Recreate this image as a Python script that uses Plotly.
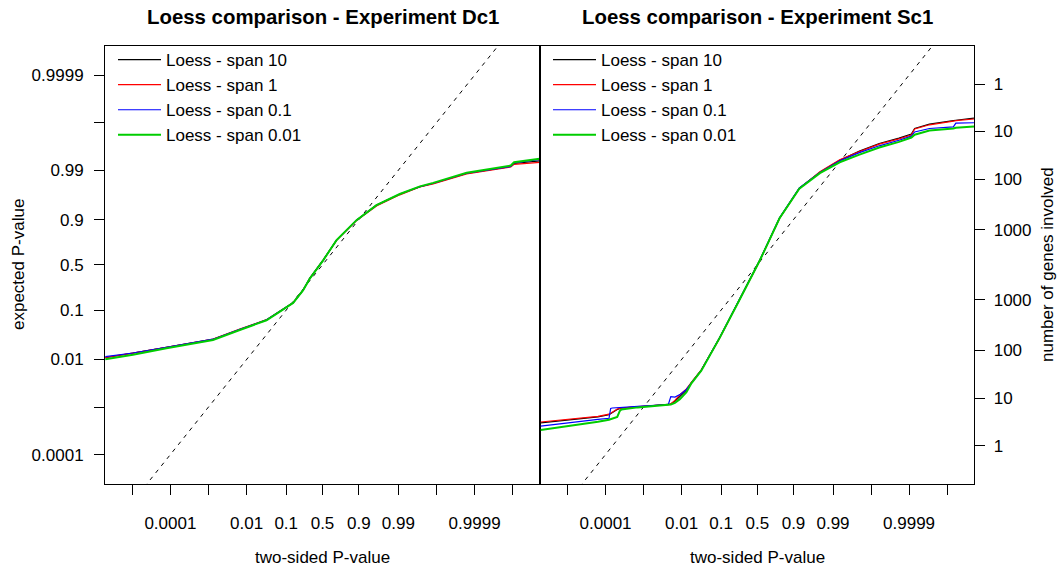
import numpy as np
import plotly.graph_objects as go

# ---------------- data (axis coordinates are logit(P) units) ----------------
series_names = ["Loess - span 10", "Loess - span 1", "Loess - span 0.1", "Loess - span 0.01"]
series_colors = ["#000000", "#FF0000", "#0000FF", "#00CD00"]
series_widths = [1.2, 1.2, 1.2, 2.0]

# Experiment Dc1 (left panel)
dc1_x = [-13.15, -11.48, -9.45, -6.63, -5.01, -3.39, -1.78, -1.18, -0.77, 0.04, 0.85,
         2.06, 3.27, 4.68, 5.90, 6.70, 8.73, 10.75, 11.40, 11.60, 13.15]
dc1_span10 = [-4.51, -4.30, -4.01, -3.62, -3.14, -2.68, -1.84, -1.23, -0.66, 0.23, 1.20,
              2.17, 2.90, 3.43, 3.79, 3.95, 4.44, 4.68, 4.78, 4.92, 5.05]
dc1_span1 = [-4.49, -4.29, -4.00, -3.60, -3.12, -2.66, -1.84, -1.23, -0.66, 0.23, 1.19,
             2.15, 2.86, 3.40, 3.78, 3.93, 4.41, 4.66, 4.75, 4.88, 4.98]
dc1_span01 = [-4.46, -4.28, -4.00, -3.61, -3.13, -2.67, -1.84, -1.23, -0.66, 0.23, 1.20,
              2.17, 2.89, 3.44, 3.80, 3.96, 4.45, 4.70, 4.78, 4.95, 5.12]
dc1_span001 = [-4.58, -4.36, -4.05, -3.65, -3.16, -2.69, -1.85, -1.24, -0.67, 0.22, 1.20,
               2.17, 2.90, 3.44, 3.81, 3.98, 4.47, 4.71, 4.82, 4.98, 5.15]

# Experiment Sc1 (right panel)
sc1_x = [-13.15, -11.5, -9.67, -9.0, -8.9, -8.8, -8.5, -8.35, -8.25, -7.25, -5.4, -5.25,
         -5.0, -4.7, -4.3, -4.0, -3.4, -2.3, -1.1, 0.15, 1.35, 2.55, 3.8, 5.0, 6.2, 7.4,
         8.6, 9.35, 9.55, 10.45, 11.9, 12.05, 13.15]
sc1_span10 = [-7.67, -7.52, -7.38, -7.28, -7.22, -7.16, -7.02, -6.98, -6.96, -6.89, -6.79,
              -6.76, -6.62, -6.38, -6.08, -5.72, -5.11, -3.56, -1.71, 0.23, 2.27, 3.72,
              4.50, 5.08, 5.52, 5.89, 6.15, 6.35, 6.62, 6.83, 7.00, 7.02, 7.12]
sc1_span1 = [-7.63, -7.49, -7.36, -7.25, -7.20, -7.12, -7.00, -6.97, -6.95, -6.88, -6.79,
             -6.74, -6.58, -6.30, -6.02, -5.70, -5.10, -3.58, -1.74, 0.20, 2.25, 3.70,
             4.52, 5.10, 5.50, 5.86, 6.12, 6.30, 6.60, 6.80, 6.98, 7.00, 7.08]
sc1_span01 = [-7.83, -7.66, -7.50, -7.45, -6.97, -6.95, -6.93, -6.92, -6.91, -6.87, -6.78,
              -6.40, -6.42, -6.30, -6.05, -5.72, -5.12, -3.55, -1.72, 0.22, 2.28, 3.74,
              4.48, 5.05, 5.45, 5.78, 6.05, 6.25, 6.45, 6.62, 6.70, 6.88, 6.90]
sc1_span001 = [-8.02, -7.84, -7.62, -7.52, -7.49, -7.46, -7.38, -7.10, -7.02, -6.92, -6.80,
               -6.78, -6.70, -6.52, -6.18, -5.75, -5.14, -3.57, -1.73, 0.21, 2.26, 3.70,
               4.45, 4.98, 5.35, 5.70, 5.97, 6.18, 6.32, 6.52, 6.62, 6.66, 6.72]

# tick labels
x_tick_p = [1e-5, 1e-4, 1e-3, 0.01, 0.1, 0.5, 0.9, 0.99, 0.999, 0.9999, 0.99999]
x_tick_text = ["", "0.0001", "", "0.01", "0.1", "0.5", "0.9", "0.99", "", "0.9999", ""]
y_tick_p = [1e-4, 1e-3, 0.01, 0.1, 0.5, 0.9, 0.99, 0.999, 0.9999]
y_tick_text = ["0.0001", "", "0.01", "0.1", "0.5", "0.9", "0.99", "", "0.9999"]
n_genes_total = 6500
genes_upper = [1, 10, 100, 1000]
genes_lower = [1000, 100, 10, 1]

AX_LIM = 13.17
AY_LIM = 10.64


def logit(p):
    p = np.asarray(p, dtype=float)
    return np.log(p / (1 - p))


FONT = "Liberation Sans, Arial, Helvetica, sans-serif"
FS = 17

fig = go.Figure()

panels = [
    ("x", "y", dc1_x, [dc1_span10, dc1_span1, dc1_span01, dc1_span001], "legend"),
    ("x2", "y2", sc1_x, [sc1_span10, sc1_span1, sc1_span01, sc1_span001], "legend2"),
]

for xa, ya, xs, ys_list, leg in panels:
    fig.add_trace(go.Scatter(x=[-AX_LIM, AX_LIM], y=[-AX_LIM, AX_LIM], mode="lines",
                             line=dict(color="black", width=1, dash="4px,5px"),
                             xaxis=xa, yaxis=ya, showlegend=False, hoverinfo="skip"))
    for name, col, w, ys in zip(series_names, series_colors, series_widths, ys_list):
        fig.add_trace(go.Scatter(x=xs, y=ys, mode="lines", name=name,
                                 line=dict(color=col, width=w),
                                 xaxis=xa, yaxis=ya, legend=leg, showlegend=True))

W, H = 1063, 567
left_dom = [105 / W, 540 / W]
right_dom = [540.3 / W, 974.3 / W]
y_dom = [(H - 484) / H, (H - 45.7) / H]

xt = dict(tickmode="array", tickvals=logit(x_tick_p).tolist(), ticktext=x_tick_text,
          range=[-AX_LIM, AX_LIM], showgrid=False, zeroline=False, showline=True,
          linecolor="black", linewidth=1, mirror=True, ticks="outside", ticklen=10,
          tickcolor="black", tickwidth=1, tickfont=dict(family=FONT, size=FS, color="black"),
          ticklabelstandoff=14, automargin=False)

fig.update_layout(
    width=W, height=H,
    margin=dict(l=0, r=0, t=0, b=0),
    paper_bgcolor="white", plot_bgcolor="white",
    font=dict(family=FONT, size=FS, color="black"),
    xaxis=dict(domain=left_dom, anchor="y", **xt),
    xaxis2=dict(domain=right_dom, anchor="y2", **xt),
    yaxis=dict(domain=y_dom, anchor="x", range=[-AY_LIM, AY_LIM], tickmode="array",
               tickvals=logit(y_tick_p).tolist(), ticktext=y_tick_text,
               showgrid=False, zeroline=False, showline=True, linecolor="black",
               linewidth=1, mirror=True, ticks="outside", ticklen=10, tickcolor="black",
               tickfont=dict(family=FONT, size=FS, color="black"), ticklabelstandoff=7,
               automargin=False),
    yaxis2=dict(domain=y_dom, anchor="x2", side="right", range=[-AY_LIM, AY_LIM],
                tickmode="array",
                tickvals=(logit(1 - np.array(genes_upper) / n_genes_total).tolist()
                          + logit(np.array(genes_lower) / n_genes_total).tolist()),
                ticktext=[str(g) for g in genes_upper] + [str(g) for g in genes_lower],
                showgrid=False, zeroline=False, showline=True, linecolor="black",
                linewidth=1, mirror=True, ticks="outside", ticklen=10, tickcolor="black",
                tickfont=dict(family=FONT, size=FS, color="black"), ticklabelstandoff=5,
                automargin=False),
    legend=dict(x=113 / W, y=(H - 42) / H, xanchor="left", yanchor="top",
                bgcolor="rgba(0,0,0,0)", font=dict(family=FONT, size=FS, color="black"),
                itemwidth=43, tracegroupgap=0),
    legend2=dict(x=548 / W, y=(H - 42) / H, xanchor="left", yanchor="top",
                 bgcolor="rgba(0,0,0,0)", font=dict(family=FONT, size=FS, color="black"),
                 itemwidth=43, tracegroupgap=0),
    showlegend=True,
)

ann = [
    dict(text="<b>Loess comparison - Experiment Dc1</b>", x=322.5 / W, y=(H - 17) / H,
         font=dict(size=20.4)),
    dict(text="<b>Loess comparison - Experiment Sc1</b>", x=757.5 / W, y=(H - 17) / H,
         font=dict(size=20.4)),
    dict(text="two-sided P-value", x=322.5 / W, y=(H - 557) / H),
    dict(text="two-sided P-value", x=757.5 / W, y=(H - 557) / H),
    dict(text="expected P-value", x=18 / W, y=(H - 265) / H, textangle=-90),
    dict(text="number of genes involved", x=1047 / W, y=(H - 265) / H, textangle=-90),
]
for a in ann:
    f = dict(family=FONT, size=FS, color="black")
    f.update(a.pop("font", {}))
    fig.add_annotation(xref="paper", yref="paper", xanchor="center", yanchor="middle",
                       showarrow=False, font=f, **a)

fig.write_html("out.html")
